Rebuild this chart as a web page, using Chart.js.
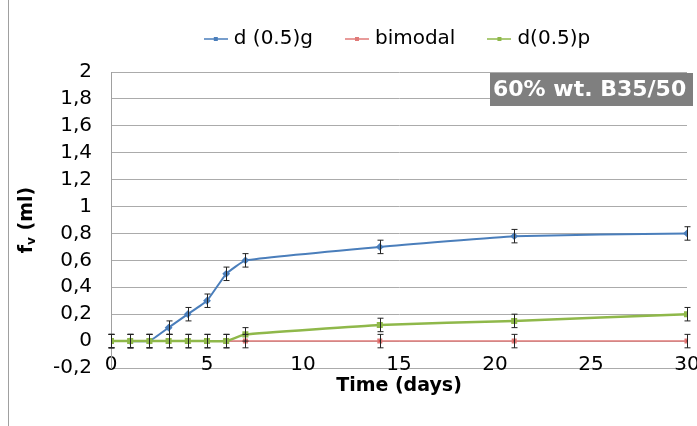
<!DOCTYPE html>
<html>
<head>
<meta charset="utf-8">
<script src="https://cdn.jsdelivr.net/npm/chart.js@4"></script>
<style>
    body { margin: 0; background: #fff; }
    #wrap { width: 697px; height: 426px; position: relative; }
</style>
</head>
<body>
<div id="wrap"><canvas id="fvChart"></canvas></div>
<script>
const days = [0, 1, 2, 3, 4, 5, 6, 7, 14, 21, 30];
const dG = [0, 0, 0, 0.1, 0.2, 0.3, 0.5, 0.6, 0.7, 0.78, 0.8];
const bimodal = [0, 0, 0, 0, 0, 0, 0, 0, 0, 0, 0];
const dP = [0, 0, 0, 0, 0, 0, 0, 0.05, 0.12, 0.15, 0.2];
const errG = [0.05, 0.05, 0.05, 0.05, 0.05, 0.05, 0.05, 0.05, 0.05, 0.05, 0.05];
const errB = [0.05, 0.05, 0.05, 0.05, 0.05, 0.05, 0.05, 0.05, 0.05, 0.05, 0.05];
const errP = [0.05, 0.05, 0.05, 0.05, 0.05, 0.05, 0.05, 0.05, 0.05, 0.05, 0.05];
const seriesNames = ['d (0.5)g', 'bimodal', 'd(0.5)p'];
const yMin = -0.2, yMax = 2, yStep = 0.2;
const xMin = 0, xMax = 30, xStep = 5;
const boxLabel = '60% wt. B35/50';

const font = 'DejaVu Sans';

function toPoints(values) {
    return values.map((v, i) => ({ x: days[i], y: v }));
}

// short line with a small marker, used as legend symbol
function legendIcon(color) {
    const c = document.createElement('canvas');
    c.width = 24;
    c.height = 8;
    const g = c.getContext('2d');
    g.strokeStyle = color;
    g.lineWidth = 1.5;
    g.beginPath();
    g.moveTo(0, 4);
    g.lineTo(24, 4);
    g.stroke();
    g.fillStyle = color;
    g.fillRect(10, 2, 4, 4);
    return c;
}

const errorBars = {
    id: 'errorBars',
    afterDatasetsDraw(chart) {
        const ctx = chart.ctx;
        const yScale = chart.scales.y;
        ctx.save();
        ctx.strokeStyle = '#222';
        ctx.lineWidth = 1;
        chart.data.datasets.forEach((ds, i) => {
            const meta = chart.getDatasetMeta(i);
            meta.data.forEach((pt, j) => {
                const v = ds.data[j].y;
                const e = ds.errors[j];
                const top = yScale.getPixelForValue(v + e);
                const bot = yScale.getPixelForValue(v - e);
                const x = Math.round(pt.x) + 0.5;
                ctx.beginPath();
                ctx.moveTo(x, top);
                ctx.lineTo(x, bot);
                ctx.moveTo(x - 3, top);
                ctx.lineTo(x + 3, top);
                ctx.moveTo(x - 3, bot);
                ctx.lineTo(x + 3, bot);
                ctx.stroke();
            });
        });
        ctx.restore();
    }
};

const extras = {
    id: 'extras',
    beforeDraw(chart) {
        const ctx = chart.ctx;
        ctx.save();
        ctx.fillStyle = '#fff';
        ctx.fillRect(0, 0, chart.width, chart.height);
        ctx.strokeStyle = '#a0a0a0';
        ctx.lineWidth = 1;
        ctx.beginPath();
        ctx.moveTo(8.5, 0);
        ctx.lineTo(8.5, chart.height);
        ctx.stroke();
        ctx.restore();
    },
    afterDraw(chart) {
        const ctx = chart.ctx;
        const area = chart.chartArea;
        ctx.save();
        // y axis title: f with subscript v
        ctx.translate(27, (area.top + area.bottom) / 2);
        ctx.rotate(-Math.PI / 2);
        ctx.fillStyle = '#000';
        ctx.textBaseline = 'middle';
        const big = 'bold 19px "' + font + '"';
        const small = 'bold 12px "' + font + '"';
        ctx.font = big;
        const wf = ctx.measureText('f').width;
        const wRest = ctx.measureText(' (ml)').width;
        ctx.font = small;
        const wv = ctx.measureText('v').width;
        let x = -(wf + wv + wRest) / 2;
        ctx.font = big;
        ctx.fillText('f', x, 0);
        x += wf;
        ctx.font = small;
        ctx.fillText('v', x, 5);
        x += wv;
        ctx.font = big;
        ctx.fillText(' (ml)', x, 0);
        ctx.restore();

        // grey label box in the corner
        ctx.save();
        ctx.fillStyle = '#7f7f7f';
        ctx.fillRect(490, 73, 203, 33);
        ctx.fillStyle = '#fff';
        ctx.font = 'bold 22px "' + font + '"';
        ctx.textBaseline = 'middle';
        ctx.fillText(boxLabel, 493, 90);
        ctx.restore();
    }
};

const colors = ['#4a7ebb', '#e07a78', '#8fb84a'];

const chart = new Chart(document.getElementById('fvChart'), {
    type: 'line',
    data: {
        datasets: [{
            label: seriesNames[0],
            data: toPoints(dG),
            errors: errG,
            borderColor: colors[0],
            backgroundColor: colors[0],
            borderWidth: 2,
            pointStyle: 'rectRot',
            pointRadius: 2.5,
            tension: 0.1,
            order: 1
        }, {
            label: seriesNames[1],
            data: toPoints(bimodal),
            errors: errB,
            borderColor: colors[1],
            backgroundColor: '#d05050',
            borderWidth: 1.5,
            pointStyle: 'rect',
            pointRadius: 2.5,
            order: 2
        }, {
            label: seriesNames[2],
            data: toPoints(dP),
            errors: errP,
            borderColor: colors[2],
            backgroundColor: colors[2],
            borderWidth: 2.5,
            pointStyle: 'rect',
            pointRadius: 2.5,
            tension: 0.1,
            order: 0
        }]
    },
    options: {
        responsive: true,
        maintainAspectRatio: false,
        animation: false,
        layout: {
            padding: { top: -7, left: 0, right: 10, bottom: 0 }
        },
        plugins: {
            legend: {
                position: 'top',
                fullSize: false,
                labels: {
                    usePointStyle: true,
                    pointStyleWidth: 16,
                    padding: 36,
                    color: '#000',
                    font: { family: font, size: 20 },
                    generateLabels(chart) {
                        return chart.data.datasets.map((ds, i) => ({
                            text: ds.label,
                            pointStyle: legendIcon(ds.borderColor),
                            datasetIndex: i,
                            hidden: false,
                            lineWidth: 0,
                            fillStyle: ds.borderColor,
                            strokeStyle: ds.borderColor,
                            fontColor: '#000'
                        }));
                    }
                }
            },
            tooltip: { enabled: false }
        },
        scales: {
            x: {
                type: 'linear',
                min: xMin,
                max: xMax,
                afterFit(scale) {
                    scale.height = 58;
                    scale.paddingLeft = 0;
                    scale.paddingRight = 0;
                },
                grid: { display: false, drawTicks: false },
                border: { display: false },
                ticks: {
                    stepSize: xStep,
                    mirror: true,
                    padding: -9,
                    maxRotation: 0,
                    color: '#000',
                    font: { family: font, size: 20 }
                },
                title: {
                    display: true,
                    text: 'Time (days)',
                    color: '#000',
                    font: { family: font, size: 19, weight: 'bold' },
                    padding: { top: 0, bottom: 29 }
                }
            },
            // empty band between legend and plot
            gap: {
                type: 'linear',
                position: 'top',
                grid: { display: false, drawTicks: false },
                border: { display: false },
                ticks: { display: false },
                afterFit(scale) {
                    scale.height = 13;
                    scale.paddingLeft = 0;
                    scale.paddingRight = 0;
                }
            },
            y: {
                min: yMin,
                max: yMax,
                afterFit(scale) {
                    scale.width = 111;
                },
                grid: { color: '#ababab', drawTicks: false },
                border: { display: true, color: '#a0a0a0' },
                ticks: {
                    stepSize: yStep,
                    autoSkip: false,
                    padding: 19,
                    color: '#000',
                    font: { family: font, size: 20 },
                    callback: v => String(Math.round(v * 10) / 10).replace('.', ',')
                }
            }
        }
    },
    plugins: [errorBars, extras]
});
</script>
</body>
</html>
